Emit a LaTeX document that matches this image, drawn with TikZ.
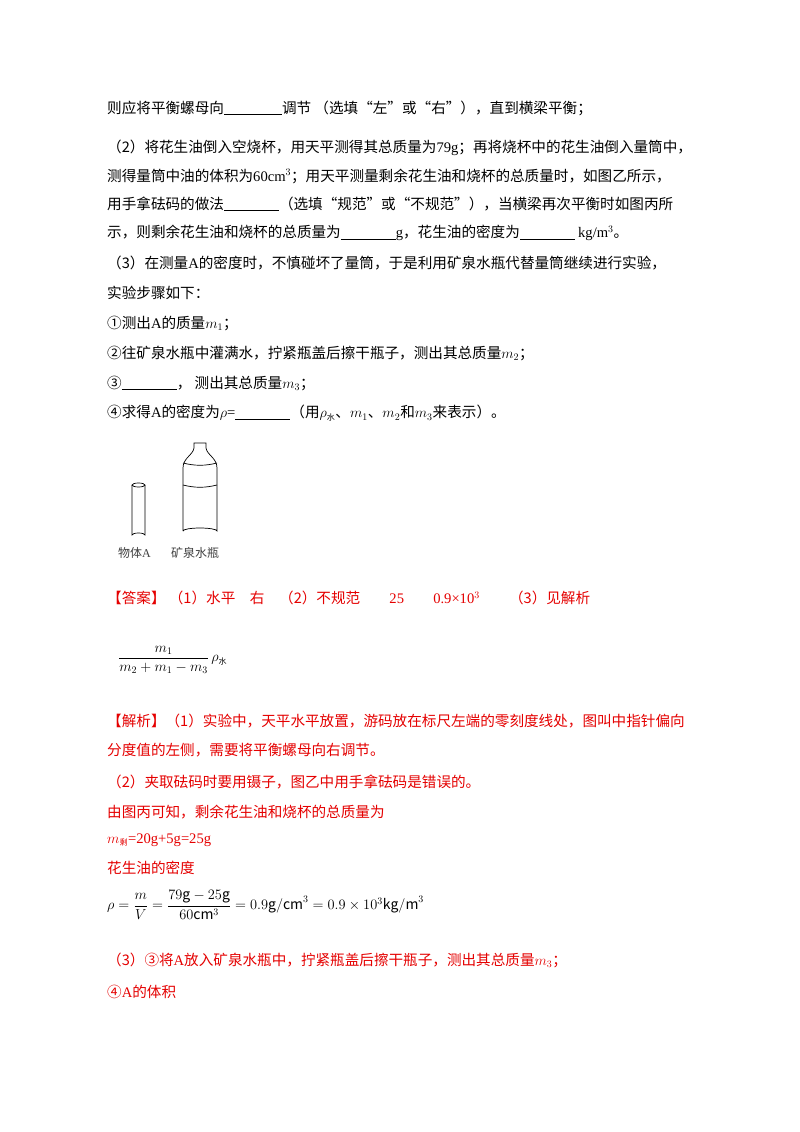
\documentclass[tikz,border=0pt]{standalone}
\usepackage{fontspec}
\usepackage{amsmath}
\setmainfont{Noto Sans CJK SC}
\newfontfamily\lat{Liberation Serif}
\newcommand{\blank}[1]{\rule[-2pt]{#1pt}{0.8pt}}
\newcommand{\shui}{\mbox{\fontsize{8}{9}\selectfont 水}}
\newcommand{\sheng}{\mbox{\fontsize{8}{9}\selectfont 剩}}
\begin{document}
\begin{tikzpicture}[x=1pt,y=-1pt,
  tx/.style={anchor=west,inner sep=0pt,font=\fontsize{14.6}{16}\selectfont},
  rt/.style={tx,text=red!90!black},
  ln/.style={line width=0.7pt}]
\useasboundingbox[fill=white] (0,0) rectangle (800,1132);
\node[tx] (l1) at (107,108) {则应将平衡螺母向\blank{58}调节 （选填“左”或“右”），直到横梁平衡；};
\node[tx] (l2) at (107,148) {（2）将花生油倒入空烧杯，用天平测得其总质量为{\lat 79g}；再将烧杯中的花生油倒入量筒中，};
\node[tx] (l3) at (107,176) {测得量筒中油的体积为{\lat 60cm$^3$}；用天平测量剩余花生油和烧杯的总质量时，如图乙所示，};
\node[tx] (l4) at (107,204) {用手拿砝码的做法\blank{55}（选填“规范”或“不规范”），当横梁再次平衡时如图丙所};
\node[tx] (l5) at (107,233) {示，则剩余花生油和烧杯的总质量为\blank{55}{\lat g}，花生油的密度为\blank{55} {\lat kg/m$^3$}。};
\node[tx] (l6) at (107,263) {（3）在测量{\lat A}的密度时，不慎碰坏了量筒，于是利用矿泉水瓶代替量筒继续进行实验，};
\node[tx] (l7) at (107,293) {实验步骤如下：};
\node[tx] (l8) at (107,323) {①测出{\lat A}的质量{\lat $m_1$}；};
\node[tx] (l9) at (107,353) {②往矿泉水瓶中灌满水，拧紧瓶盖后擦干瓶子，测出其总质量{\lat $m_2$}；};
\node[tx] (l10) at (107,383) {③\blank{55}， 测出其总质量{\lat $m_3$}；};
\node[tx] (l11) at (107,413) {④求得{\lat A}的密度为{\lat $\rho$=}\blank{55}（用{\lat $\rho$}$_{\shui}$、{\lat $m_1$}、{\lat $m_2$}和{\lat $m_3$}来表示）。};
% figure
\draw[ln] (132,485) -- (132,535) arc[start angle=180,end angle=360,x radius=6.5,y radius=2] -- (145,485);
\draw[ln] (138.5,485) ellipse[x radius=6.5,y radius=2];
\draw[ln] (183,531) -- (183,468) .. controls (183,458) and (193,455) .. (194,448) -- (194,443) -- (206,443) -- (206,448) .. controls (207,455) and (217,458) .. (217,468) -- (217,531) arc[start angle=0,end angle=-180,x radius=17,y radius=3];
\draw[ln] (183,463) .. controls (195,466) and (205,466) .. (217,463);
\draw[ln] (183,485) .. controls (195,488) and (205,488) .. (217,485);
\node[tx,font=\fontsize{12}{13}\selectfont,text=black!75] (la) at (118,553) {物体{\lat A}};
\node[tx,font=\fontsize{12}{13}\selectfont,text=black!75] (lb) at (171,553) {矿泉水瓶};
% answer
\node[rt] (ans) at (107,598) {【答案】 （1）水平\quad 右\quad （2）不规范\qquad {\lat 25}\qquad {\lat 0.9×10$^3$}\qquad （3）见解析};
\node[tx,font=\fontsize{14}{16}\selectfont] (fr) at (118,660) {$\dfrac{m_1}{m_2+m_1-m_3}\,\rho_{\shui}$};
\node[rt] (j1) at (107,721) {【解析】（1）实验中，天平水平放置，游码放在标尺左端的零刻度线处，图叫中指针偏向};
\node[rt] (j2) at (107,750) {分度值的左侧，需要将平衡螺母向右调节。};
\node[rt] (j3) at (107,782) {（2）夹取砝码时要用镊子，图乙中用手拿砝码是错误的。};
\node[rt] (j4) at (107,812) {由图丙可知，剩余花生油和烧杯的总质量为};
\node[rt] (j5) at (107,840) {{\lat $m$}$_{\sheng}${\lat =20g+5g=25g}};
\node[rt] (j6) at (107,868) {花生油的密度};
\node[tx,font=\fontsize{14}{16}\selectfont] (eq) at (107,905) {$\rho=\dfrac{m}{V}=\dfrac{79\mathrm{g}-25\mathrm{g}}{60\mathrm{cm}^3}=0.9\mathrm{g/cm}^3=0.9\times10^3\mathrm{kg/m}^3$};
\node[rt] (j7) at (107,960) {（3）③将{\lat A}放入矿泉水瓶中，拧紧瓶盖后擦干瓶子，测出其总质量{\lat $m_3$}；};
\node[rt] (j8) at (107,992) {④{\lat A}的体积};
\end{tikzpicture}
\end{document}
